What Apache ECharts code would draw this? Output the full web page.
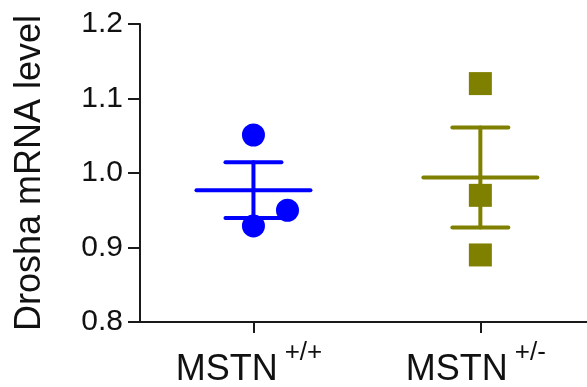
<!DOCTYPE html>
<html>
<head>
<meta charset="utf-8">
<script src="https://cdn.jsdelivr.net/npm/echarts@6/dist/echarts.min.js"></script>
<style>html,body{margin:0;padding:0;background:#fff;}#c{width:587px;height:387px;}</style>
</head>
<body>
<div id="c"></div>
<script>
// ---- data ----
const groupNames = ['MSTN', 'MSTN'];
const groupSup = ['+/+', '+/-'];
const groupPos = [1, 2];
const wtX = [1, 1.15, 1];
const wtY = [1.051, 0.950, 0.929];
const hetX = [2, 2, 2];
const hetY = [1.120, 0.970, 0.890];
const means = [0.977, 0.994];
const sems = [0.0375, 0.067];
const yTicks = [0.8, 0.9, 1.0, 1.1, 1.2];

const colors = ['#0000FF', '#808000'];
const FONT = "'Liberation Sans', Arial, sans-serif";

const chart = echarts.init(document.getElementById('c'), null, {renderer: 'canvas'});

const errData = groupPos.map((x, i) => [x, means[i], sems[i]]);

function renderErr(params, api) {
  const x = api.value(0), m = api.value(1), s = api.value(2);
  const c = api.coord([x, m]);
  const top = api.coord([x, m + s]);
  const bot = api.coord([x, m - s]);
  const color = colors[params.dataIndex];
  const style = {stroke: color, lineWidth: 4, lineCap: 'round'};
  const halfMean = 57, halfCap = 28;
  return {
    type: 'group',
    children: [
      {type: 'line', shape: {x1: c[0] - halfMean, y1: c[1], x2: c[0] + halfMean, y2: c[1]}, style},
      {type: 'line', shape: {x1: c[0], y1: top[1], x2: c[0], y2: bot[1]}, style},
      {type: 'line', shape: {x1: c[0] - halfCap, y1: top[1], x2: c[0] + halfCap, y2: top[1]}, style},
      {type: 'line', shape: {x1: c[0] - halfCap, y1: bot[1], x2: c[0] + halfCap, y2: bot[1]}, style}
    ]
  };
}

const option = {
  backgroundColor: '#ffffff',
  animation: false,
  grid: {left: 140, right: 0, top: 24, bottom: 65, containLabel: false, outerBoundsMode: 'none'},
  xAxis: {
    type: 'value',
    min: 0.5,
    max: 2.47,
    splitLine: {show: false},
    axisLine: {show: true, onZero: false, lineStyle: {color: '#1a1a1a', width: 2}},
    axisTick: {show: true, length: 11, customValues: groupPos, lineStyle: {color: '#1a1a1a', width: 2}},
    axisLabel: {
      show: true,
      customValues: groupPos,
      margin: 18,
      formatter: function (v) {
        const i = groupPos.indexOf(Math.round(v));
        return '{main|' + groupNames[i] + '}{sup|' + groupSup[i] + '}';
      },
      rich: {
        main: {fontSize: 36, fontFamily: FONT, color: '#111'},
        sup: {fontSize: 26, fontFamily: FONT, color: '#111', padding: [0, 9, 34, 7]}
      }
    }
  },
  yAxis: {
    type: 'value',
    min: yTicks[0],
    max: yTicks[yTicks.length - 1],
    interval: 0.1,
    splitLine: {show: false},
    axisLine: {show: true, lineStyle: {color: '#1a1a1a', width: 2}},
    axisTick: {show: true, length: 12, lineStyle: {color: '#1a1a1a', width: 2}},
    axisLabel: {
      margin: 17,
      fontSize: 30,
      fontFamily: FONT,
      color: '#111',
      formatter: v => v.toFixed(1)
    },
    name: 'Drosha mRNA level',
    nameLocation: 'middle',
    nameRotate: 90,
    nameGap: 92,
    nameTextStyle: {fontSize: 36, fontFamily: FONT, color: '#111'}
  },
  series: [
    {
      type: 'custom',
      renderItem: renderErr,
      data: errData,
      encode: {x: 0, y: 1},
      z: 2
    },
    {
      type: 'scatter',
      symbol: 'circle',
      symbolSize: 23,
      itemStyle: {color: colors[0], opacity: 1},
      data: wtX.map((x, i) => [x, wtY[i]]),
      z: 3
    },
    {
      type: 'scatter',
      symbol: 'rect',
      symbolSize: 23,
      itemStyle: {color: colors[1], opacity: 1},
      data: hetX.map((x, i) => [x, hetY[i]]),
      z: 3
    }
  ]
};
chart.setOption(option);
</script>
</body>
</html>
